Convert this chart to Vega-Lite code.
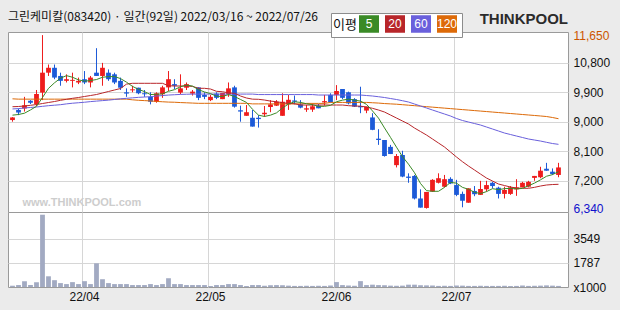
{
  "$schema": "https://vega.github.io/schema/vega-lite/v6.json",
  "background": "#ebebeb",
  "padding": {"left": 7, "top": 10, "right": 11, "bottom": 14},
  "bounds": "flush",
  "title": {"text": "THINKPOOL", "anchor": "end", "frame": "group", "offset": -16, "fontSize": 15, "fontWeight": "bold", "font": "Liberation Sans", "color": "#2b2b2b"},
  "datasets": {
    "k": [
      {"d":"2022-03-16","o":9050,"h":9140,"l":9000,"c":9130,"v":95,"m5":9200,"m20":9458,"m60":9390,"m120":9700},
      {"d":"2022-03-17","o":9360,"h":9400,"l":9200,"c":9280,"v":143,"m5":9220,"m20":9465,"m60":9400,"m120":9690},
      {"d":"2022-03-18","o":9400,"h":9760,"l":9310,"c":9500,"v":428,"m5":9260,"m20":9480,"m60":9420,"m120":9690},
      {"d":"2022-03-21","o":9640,"h":9660,"l":9540,"c":9580,"v":143,"m5":9360,"m20":9501,"m60":9435,"m120":9690},
      {"d":"2022-03-22","o":9540,"h":9970,"l":9480,"c":9850,"v":357,"m5":9470,"m20":9526,"m60":9450,"m120":9690},
      {"d":"2022-03-23","o":9890,"h":11650,"l":9660,"c":10500,"v":5300,"m5":9740,"m20":9556,"m60":9470,"m120":9690},
      {"d":"2022-03-24","o":10500,"h":10750,"l":10400,"c":10650,"v":785,"m5":10020,"m20":9587,"m60":9490,"m120":9690},
      {"d":"2022-03-25","o":10650,"h":10750,"l":10300,"c":10350,"v":500,"m5":10190,"m20":9617,"m60":9505,"m120":9690},
      {"d":"2022-03-28","o":10400,"h":10500,"l":10100,"c":10250,"v":286,"m5":10330,"m20":9654,"m60":9520,"m120":9690},
      {"d":"2022-03-29","o":10250,"h":10450,"l":10200,"c":10300,"v":214,"m5":10410,"m20":9685,"m60":9545,"m120":9690},
      {"d":"2022-03-30","o":10250,"h":10500,"l":10050,"c":10280,"v":357,"m5":10360,"m20":9715,"m60":9565,"m120":9690},
      {"d":"2022-03-31","o":10200,"h":10350,"l":10150,"c":10250,"v":214,"m5":10280,"m20":9740,"m60":9580,"m120":9690},
      {"d":"2022-04-01","o":10300,"h":10550,"l":10150,"c":10200,"v":428,"m5":10240,"m20":9771,"m60":9595,"m120":9690},
      {"d":"2022-04-04","o":10200,"h":10400,"l":10050,"c":10350,"v":214,"m5":10260,"m20":9801,"m60":9615,"m120":9690},
      {"d":"2022-04-05","o":10500,"h":11250,"l":10400,"c":10400,"v":1737,"m5":10290,"m20":9832,"m60":9630,"m120":9690},
      {"d":"2022-04-06","o":10400,"h":10800,"l":10100,"c":10650,"v":571,"m5":10360,"m20":9878,"m60":9645,"m120":9690},
      {"d":"2022-04-07","o":10500,"h":10600,"l":10250,"c":10300,"v":286,"m5":10380,"m20":9924,"m60":9660,"m120":9690},
      {"d":"2022-04-08","o":10450,"h":10500,"l":10150,"c":10200,"v":214,"m5":10380,"m20":9970,"m60":9680,"m120":9690},
      {"d":"2022-04-11","o":10250,"h":10350,"l":9970,"c":10040,"v":214,"m5":10320,"m20":10015,"m60":9700,"m120":9690},
      {"d":"2022-04-12","o":9900,"h":10020,"l":9760,"c":9860,"v":214,"m5":10210,"m20":10150,"m60":9715,"m120":9690},
      {"d":"2022-04-13","o":9960,"h":10100,"l":9900,"c":9990,"v":143,"m5":10080,"m20":10175,"m60":9730,"m120":9670},
      {"d":"2022-04-14","o":10040,"h":10040,"l":9840,"c":9870,"v":143,"m5":9990,"m20":10175,"m60":9745,"m120":9655},
      {"d":"2022-04-15","o":9870,"h":9970,"l":9760,"c":9840,"v":143,"m5":9920,"m20":10175,"m60":9755,"m120":9645},
      {"d":"2022-04-18","o":9760,"h":9900,"l":9530,"c":9610,"v":214,"m5":9830,"m20":10175,"m60":9765,"m120":9635},
      {"d":"2022-04-19","o":9610,"h":9900,"l":9580,"c":9870,"v":143,"m5":9840,"m20":10175,"m60":9785,"m120":9620},
      {"d":"2022-04-20","o":9840,"h":10100,"l":9730,"c":10050,"v":214,"m5":9850,"m20":10175,"m60":9800,"m120":9610},
      {"d":"2022-04-21","o":10050,"h":10550,"l":9940,"c":10300,"v":643,"m5":9930,"m20":10100,"m60":9815,"m120":9600},
      {"d":"2022-04-22","o":10150,"h":10300,"l":10000,"c":10100,"v":214,"m5":9980,"m20":10092,"m60":9825,"m120":9595},
      {"d":"2022-04-25","o":9890,"h":10450,"l":9840,"c":10020,"v":214,"m5":10070,"m20":10092,"m60":9835,"m120":9585},
      {"d":"2022-04-26","o":10040,"h":10200,"l":9970,"c":10150,"v":143,"m5":10120,"m20":10092,"m60":9840,"m120":9578},
      {"d":"2022-04-27","o":9860,"h":9970,"l":9800,"c":9920,"v":143,"m5":10090,"m20":10080,"m60":9845,"m120":9570},
      {"d":"2022-04-28","o":10050,"h":10050,"l":9660,"c":9730,"v":143,"m5":9980,"m20":10022,"m60":9845,"m120":9562},
      {"d":"2022-04-29","o":9820,"h":9900,"l":9690,"c":9760,"v":143,"m5":9910,"m20":10022,"m60":9845,"m120":9562},
      {"d":"2022-05-02","o":9660,"h":9820,"l":9630,"c":9760,"v":71,"m5":9860,"m20":10000,"m60":9845,"m120":9562},
      {"d":"2022-05-03","o":9860,"h":9900,"l":9690,"c":9730,"v":143,"m5":9780,"m20":9930,"m60":9845,"m120":9562},
      {"d":"2022-05-04","o":9690,"h":9880,"l":9690,"c":9880,"v":143,"m5":9770,"m20":9917,"m60":9845,"m120":9562},
      {"d":"2022-05-06","o":9840,"h":10200,"l":9760,"c":10020,"v":214,"m5":9830,"m20":9880,"m60":9845,"m120":9562},
      {"d":"2022-05-09","o":10050,"h":10100,"l":9430,"c":9460,"v":214,"m5":9770,"m20":9869,"m60":9845,"m120":9562},
      {"d":"2022-05-10","o":9350,"h":9490,"l":9000,"c":9310,"v":143,"m5":9680,"m20":9786,"m60":9845,"m120":9562},
      {"d":"2022-05-11","o":9180,"h":9510,"l":9180,"c":9290,"v":71,"m5":9590,"m20":9725,"m60":9845,"m120":9562},
      {"d":"2022-05-12","o":9120,"h":9360,"l":8850,"c":8850,"v":143,"m5":9380,"m20":9690,"m60":9845,"m120":9545},
      {"d":"2022-05-13","o":9120,"h":9200,"l":8820,"c":9080,"v":143,"m5":9200,"m20":9685,"m60":9830,"m120":9545},
      {"d":"2022-05-16","o":9230,"h":9480,"l":9150,"c":9270,"v":100,"m5":9160,"m20":9663,"m60":9830,"m120":9545},
      {"d":"2022-05-17","o":9450,"h":9660,"l":9290,"c":9530,"v":130,"m5":9200,"m20":9630,"m60":9830,"m120":9545},
      {"d":"2022-05-18","o":9490,"h":9660,"l":9480,"c":9610,"v":140,"m5":9270,"m20":9611,"m60":9830,"m120":9545},
      {"d":"2022-05-19","o":9180,"h":9870,"l":9180,"c":9610,"v":130,"m5":9420,"m20":9580,"m60":9830,"m120":9545},
      {"d":"2022-05-20","o":9530,"h":9820,"l":9360,"c":9670,"v":100,"m5":9540,"m20":9562,"m60":9830,"m120":9545},
      {"d":"2022-05-23","o":9650,"h":9800,"l":9530,"c":9610,"v":80,"m5":9610,"m20":9550,"m60":9830,"m120":9545},
      {"d":"2022-05-24","o":9530,"h":9660,"l":9410,"c":9430,"v":80,"m5":9590,"m20":9510,"m60":9830,"m120":9545},
      {"d":"2022-05-25","o":9370,"h":9510,"l":9300,"c":9410,"v":90,"m5":9550,"m20":9510,"m60":9830,"m120":9560},
      {"d":"2022-05-26","o":9370,"h":9560,"l":9300,"c":9470,"v":80,"m5":9520,"m20":9510,"m60":9830,"m120":9560},
      {"d":"2022-05-27","o":9490,"h":9540,"l":9410,"c":9410,"v":90,"m5":9470,"m20":9510,"m60":9816,"m120":9560},
      {"d":"2022-05-30","o":9590,"h":9820,"l":9490,"c":9630,"v":80,"m5":9470,"m20":9510,"m60":9816,"m120":9560},
      {"d":"2022-05-31","o":9820,"h":9870,"l":9590,"c":9590,"v":110,"m5":9500,"m20":9510,"m60":9816,"m120":9590},
      {"d":"2022-06-02","o":9820,"h":10120,"l":9660,"c":9940,"v":360,"m5":9610,"m20":9510,"m60":9816,"m120":9590},
      {"d":"2022-06-03","o":10000,"h":10000,"l":9690,"c":9730,"v":140,"m5":9660,"m20":9510,"m60":9816,"m120":9590},
      {"d":"2022-06-07","o":9900,"h":9920,"l":9530,"c":9560,"v":110,"m5":9690,"m20":9490,"m60":9816,"m120":9590},
      {"d":"2022-06-08","o":9690,"h":9720,"l":9450,"c":9460,"v":90,"m5":9660,"m20":9480,"m60":9816,"m120":9590},
      {"d":"2022-06-09","o":9480,"h":10070,"l":9260,"c":9440,"v":430,"m5":9630,"m20":9475,"m60":9816,"m120":9590},
      {"d":"2022-06-10","o":9340,"h":9460,"l":9260,"c":9460,"v":140,"m5":9530,"m20":9449,"m60":9801,"m120":9590},
      {"d":"2022-06-13","o":9130,"h":9260,"l":8740,"c":8750,"v":170,"m5":9330,"m20":9409,"m60":9786,"m120":9580},
      {"d":"2022-06-14","o":8480,"h":8770,"l":8290,"c":8440,"v":140,"m5":9110,"m20":9357,"m60":9764,"m120":9570},
      {"d":"2022-06-15","o":8440,"h":8440,"l":7930,"c":7950,"v":130,"m5":8810,"m20":9296,"m60":9740,"m120":9555},
      {"d":"2022-06-16","o":8230,"h":8290,"l":8010,"c":8010,"v":100,"m5":8520,"m20":9204,"m60":9709,"m120":9545},
      {"d":"2022-06-17","o":7670,"h":8010,"l":7600,"c":7950,"v":90,"m5":8220,"m20":9112,"m60":9679,"m120":9535},
      {"d":"2022-06-20","o":7980,"h":8110,"l":7300,"c":7320,"v":100,"m5":7930,"m20":9021,"m60":9642,"m120":9520},
      {"d":"2022-06-21","o":7320,"h":7420,"l":7130,"c":7280,"v":170,"m5":7700,"m20":8929,"m60":9602,"m120":9505},
      {"d":"2022-06-22","o":7340,"h":7370,"l":6620,"c":6650,"v":170,"m5":7440,"m20":8806,"m60":9541,"m120":9490},
      {"d":"2022-06-23","o":6650,"h":6930,"l":6370,"c":6370,"v":130,"m5":7110,"m20":8699,"m60":9480,"m120":9475},
      {"d":"2022-06-24","o":6360,"h":6850,"l":6340,"c":6850,"v":120,"m5":6890,"m20":8592,"m60":9419,"m120":9460},
      {"d":"2022-06-27","o":6860,"h":7240,"l":6850,"c":7220,"v":110,"m5":6870,"m20":8470,"m60":9357,"m120":9445},
      {"d":"2022-06-28","o":7130,"h":7420,"l":7110,"c":7270,"v":80,"m5":6870,"m20":8347,"m60":9296,"m120":9430},
      {"d":"2022-06-29","o":7010,"h":7370,"l":6990,"c":7240,"v":90,"m5":6990,"m20":8225,"m60":9235,"m120":9415},
      {"d":"2022-06-30","o":7250,"h":7300,"l":7090,"c":7110,"v":80,"m5":7140,"m20":8072,"m60":9174,"m120":9400},
      {"d":"2022-07-01","o":7060,"h":7220,"l":6720,"c":6760,"v":110,"m5":7120,"m20":7919,"m60":9097,"m120":9385},
      {"d":"2022-07-04","o":6790,"h":6860,"l":6380,"c":6580,"v":100,"m5":6990,"m20":7775,"m60":9036,"m120":9370},
      {"d":"2022-07-05","o":6520,"h":6960,"l":6520,"c":6960,"v":80,"m5":6930,"m20":7643,"m60":8990,"m120":9355},
      {"d":"2022-07-06","o":6880,"h":7030,"l":6720,"c":6780,"v":80,"m5":6840,"m20":7521,"m60":8944,"m120":9340},
      {"d":"2022-07-07","o":6760,"h":7190,"l":6760,"c":6940,"v":90,"m5":6800,"m20":7398,"m60":8898,"m120":9325},
      {"d":"2022-07-08","o":6930,"h":7190,"l":6860,"c":7060,"v":80,"m5":6860,"m20":7276,"m60":8837,"m120":9310},
      {"d":"2022-07-11","o":7130,"h":7160,"l":6960,"c":7030,"v":80,"m5":6950,"m20":7184,"m60":8776,"m120":9295},
      {"d":"2022-07-12","o":6980,"h":7010,"l":6650,"c":6790,"v":80,"m5":6920,"m20":7092,"m60":8715,"m120":9280},
      {"d":"2022-07-13","o":6790,"h":7010,"l":6650,"c":6910,"v":90,"m5":6950,"m20":7046,"m60":8653,"m120":9265},
      {"d":"2022-07-14","o":6790,"h":7030,"l":6760,"c":6990,"v":70,"m5":6960,"m20":7000,"m60":8607,"m120":9250},
      {"d":"2022-07-15","o":6930,"h":7240,"l":6730,"c":6990,"v":80,"m5":6940,"m20":6970,"m60":8561,"m120":9235},
      {"d":"2022-07-18","o":6990,"h":7160,"l":6990,"c":7130,"v":110,"m5":6960,"m20":6961,"m60":8516,"m120":9220},
      {"d":"2022-07-19","o":7010,"h":7190,"l":6990,"c":7160,"v":80,"m5":7040,"m20":6961,"m60":8470,"m120":9205},
      {"d":"2022-07-20","o":7280,"h":7340,"l":7190,"c":7340,"v":90,"m5":7120,"m20":6991,"m60":8439,"m120":9190},
      {"d":"2022-07-21","o":7300,"h":7620,"l":7270,"c":7500,"v":100,"m5":7220,"m20":7031,"m60":8408,"m120":9175},
      {"d":"2022-07-22","o":7560,"h":7740,"l":7500,"c":7500,"v":120,"m5":7330,"m20":7062,"m60":8369,"m120":9158},
      {"d":"2022-07-25","o":7470,"h":7570,"l":7370,"c":7400,"v":100,"m5":7380,"m20":7077,"m60":8332,"m120":9128},
      {"d":"2022-07-26","o":7370,"h":7740,"l":7300,"c":7600,"v":80,"m5":7470,"m20":7083,"m60":8307,"m120":9091}
    ]
  },
  "spacing": 0,
  "resolve": {"scale": {"x": "shared"}},
  "vconcat": [
    {
      "width": 560,
      "height": 180,
      "title": {"text": "그린케미칼(083420) · 일간(92일) 2022/03/16 ~ 2022/07/26", "anchor": "start", "frame": "group", "offset": 5, "fontSize": 12, "fontWeight": "normal", "font": "Noto Sans CJK KR", "color": "#111111"},
      "data": {"name": "k"},
      "encoding": {
        "x": {
          "field": "d", "type": "ordinal",
          "scale": {"type": "band", "paddingInner": 0.2, "paddingOuter": 0.7667, "align": 0.228},
          "axis": {"values": ["2022-04-01", "2022-05-02", "2022-06-02", "2022-07-01"], "bandPosition": 0, "labels": false, "ticks": false, "domain": false, "title": null, "grid": true, "gridColor": "#d6d6d6", "minExtent": 0, "maxExtent": 0, "offset": 0}
        }
      },
      "layer": [
        {
          "mark": {"type": "rule", "strokeWidth": 1},
          "encoding": {
            "y": {
              "field": "l", "type": "quantitative",
              "scale": {"domain": [6236, 11745], "nice": false, "zero": false},
              "axis": {"orient": "right", "title": null, "values": [11650, 10800, 9900, 9000, 8100, 7200, 6340], "format": ",d", "domain": false, "ticks": false, "labelPadding": 5, "labelFlush": false, "labelOverlap": false, "labelFont": "Liberation Sans", "labelFontSize": 12, "labelColor": {"condition": [{"test": "datum.value == 11650", "value": "#cc5500"}, {"test": "datum.value == 6340", "value": "#1010cc"}], "value": "#111111"}, "gridColor": {"condition": {"test": "datum.value == 11650 || datum.value == 6340", "value": "rgba(0,0,0,0)"}, "value": "#d6d6d6"}}
            },
            "y2": {"field": "h"},
            "color": {"condition": {"test": "datum.c >= datum.o", "value": "#ee1c1c"}, "value": "#1c5ad8"}
          }
        },
        {
          "data": {"values": [{}]},
          "mark": {"type": "text", "align": "left", "baseline": "middle", "dx": -2, "fontSize": 11, "fontWeight": "bold", "font": "Liberation Sans", "color": "#cdcdcd"},
          "encoding": {
            "x": {"datum": "2022-03-18", "type": "ordinal"},
            "y": {"datum": 6500, "type": "quantitative", "axis": {"orient": "right", "title": null, "values": [11650, 10800, 9900, 9000, 8100, 7200, 6340], "format": ",d", "domain": false, "ticks": false, "labelPadding": 5, "labelFlush": false, "labelOverlap": false, "labelFont": "Liberation Sans", "labelFontSize": 12, "labelColor": {"condition": [{"test": "datum.value == 11650", "value": "#cc5500"}, {"test": "datum.value == 6340", "value": "#1010cc"}], "value": "#111111"}, "gridColor": {"condition": {"test": "datum.value == 11650 || datum.value == 6340", "value": "rgba(0,0,0,0)"}, "value": "#d6d6d6"}}},
            "text": {"value": "www.THINKPOOL.com"}
          }
        },
        {
          "mark": {"type": "bar"},
          "encoding": {
            "y": {"field": "o", "type": "quantitative", "axis": {"orient": "right", "title": null, "values": [11650, 10800, 9900, 9000, 8100, 7200, 6340], "format": ",d", "domain": false, "ticks": false, "labelPadding": 5, "labelFlush": false, "labelOverlap": false, "labelFont": "Liberation Sans", "labelFontSize": 12, "labelColor": {"condition": [{"test": "datum.value == 11650", "value": "#cc5500"}, {"test": "datum.value == 6340", "value": "#1010cc"}], "value": "#111111"}, "gridColor": {"condition": {"test": "datum.value == 11650 || datum.value == 6340", "value": "rgba(0,0,0,0)"}, "value": "#d6d6d6"}}},
            "y2": {"field": "c"},
            "color": {"condition": {"test": "datum.c >= datum.o", "value": "#ee1c1c"}, "value": "#1c5ad8"}
          }
        },
        {
          "mark": {"type": "line", "strokeWidth": 1},
          "encoding": {
            "y": {"field": "m120", "type": "quantitative", "axis": {"orient": "right", "title": null, "values": [11650, 10800, 9900, 9000, 8100, 7200, 6340], "format": ",d", "domain": false, "ticks": false, "labelPadding": 5, "labelFlush": false, "labelOverlap": false, "labelFont": "Liberation Sans", "labelFontSize": 12, "labelColor": {"condition": [{"test": "datum.value == 11650", "value": "#cc5500"}, {"test": "datum.value == 6340", "value": "#1010cc"}], "value": "#111111"}, "gridColor": {"condition": {"test": "datum.value == 11650 || datum.value == 6340", "value": "rgba(0,0,0,0)"}, "value": "#d6d6d6"}}},
            "color": {
              "datum": "120", "type": "nominal",
              "scale": {"domain": ["5", "20", "60", "120"], "range": ["#3a8a26", "#b8262a", "#6a60dc", "#dd6a08"]},
              "legend": {
                "orient": "none", "legendX": 323, "legendY": -19, "direction": "horizontal",
                "title": "이평", "titleOrient": "left", "titleFont": "Noto Sans CJK KR", "titleFontSize": 13, "titleFontWeight": "normal", "titleColor": "#111111", "titlePadding": 3,
                "symbolType": "M-1.25,-1H1.25M-1.25,-0.875H1.25M-1.25,-0.75H1.25M-1.25,-0.625H1.25M-1.25,-0.5H1.25M-1.25,-0.375H1.25M-1.25,-0.25H1.25M-1.25,-0.125H1.25M-1.25,0H1.25M-1.25,0.125H1.25M-1.25,0.25H1.25M-1.25,0.375H1.25M-1.25,0.5H1.25M-1.25,0.625H1.25M-1.25,0.75H1.25M-1.25,0.875H1.25M-1.25,1H1.25",
                "symbolSize": 256, "symbolStrokeWidth": 1.5, "symbolOpacity": 1,
                "labelColor": "white", "labelFont": "Liberation Sans", "labelFontSize": 12, "labelAlign": "center", "labelOffset": -9,
                "columnPadding": 0, "padding": 2, "fillColor": "white", "strokeColor": "#8c8c8c", "cornerRadius": 0
              }
            }
          }
        },
        {
          "mark": {"type": "line", "strokeWidth": 1},
          "encoding": {"y": {"field": "m60", "type": "quantitative", "axis": {"orient": "right", "title": null, "values": [11650, 10800, 9900, 9000, 8100, 7200, 6340], "format": ",d", "domain": false, "ticks": false, "labelPadding": 5, "labelFlush": false, "labelOverlap": false, "labelFont": "Liberation Sans", "labelFontSize": 12, "labelColor": {"condition": [{"test": "datum.value == 11650", "value": "#cc5500"}, {"test": "datum.value == 6340", "value": "#1010cc"}], "value": "#111111"}, "gridColor": {"condition": {"test": "datum.value == 11650 || datum.value == 6340", "value": "rgba(0,0,0,0)"}, "value": "#d6d6d6"}}}, "color": {"datum": "60", "type": "nominal"}}
        },
        {
          "mark": {"type": "line", "strokeWidth": 1},
          "encoding": {"y": {"field": "m20", "type": "quantitative", "axis": {"orient": "right", "title": null, "values": [11650, 10800, 9900, 9000, 8100, 7200, 6340], "format": ",d", "domain": false, "ticks": false, "labelPadding": 5, "labelFlush": false, "labelOverlap": false, "labelFont": "Liberation Sans", "labelFontSize": 12, "labelColor": {"condition": [{"test": "datum.value == 11650", "value": "#cc5500"}, {"test": "datum.value == 6340", "value": "#1010cc"}], "value": "#111111"}, "gridColor": {"condition": {"test": "datum.value == 11650 || datum.value == 6340", "value": "rgba(0,0,0,0)"}, "value": "#d6d6d6"}}}, "color": {"datum": "20", "type": "nominal"}}
        },
        {
          "mark": {"type": "line", "strokeWidth": 1},
          "encoding": {"y": {"field": "m5", "type": "quantitative", "axis": {"orient": "right", "title": null, "values": [11650, 10800, 9900, 9000, 8100, 7200, 6340], "format": ",d", "domain": false, "ticks": false, "labelPadding": 5, "labelFlush": false, "labelOverlap": false, "labelFont": "Liberation Sans", "labelFontSize": 12, "labelColor": {"condition": [{"test": "datum.value == 11650", "value": "#cc5500"}, {"test": "datum.value == 6340", "value": "#1010cc"}], "value": "#111111"}, "gridColor": {"condition": {"test": "datum.value == 11650 || datum.value == 6340", "value": "rgba(0,0,0,0)"}, "value": "#d6d6d6"}}}, "color": {"datum": "5", "type": "nominal"}}
        }
      ]
    },
    {
      "width": 560,
      "height": 75,
      "data": {"name": "k"},
      "mark": {"type": "bar", "color": "#a2aac2"},
      "encoding": {
        "x": {
          "field": "d", "type": "ordinal",
          "scale": {"type": "band", "paddingInner": 0.2, "paddingOuter": 0.7667, "align": 0.228},
          "axis": {
            "values": ["2022-04-01", "2022-05-02", "2022-06-02", "2022-07-01"], "bandPosition": 0,
            "labelExpr": "substring(datum.value, 2, 4) + '/' + substring(datum.value, 5, 7)",
            "labelAngle": 0, "labelPadding": 4, "labelFont": "Liberation Sans", "labelFontSize": 12, "labelColor": "#111111",
            "ticks": false, "domain": false, "title": null, "grid": true, "gridColor": "#d6d6d6"
          }
        },
        "y": {
          "field": "v", "type": "quantitative",
          "scale": {"domain": [0, 5500], "nice": false},
          "axis": {
            "orient": "right", "title": null, "values": [0, 1787, 3549], "format": "d",
            "labelExpr": "datum.value == 0 ? 'x1000' : datum.label",
            "domain": false, "ticks": false, "labelPadding": 5, "labelFlush": false, "labelOverlap": false,
            "labelFont": "Liberation Sans", "labelFontSize": 12, "labelColor": "#111111",
            "gridColor": {"condition": {"test": "datum.value == 0", "value": "rgba(0,0,0,0)"}, "value": "#d6d6d6"}
          }
        }
      }
    }
  ],
  "config": {
    "view": {"fill": "white", "stroke": "#9a9a9a"}
  }
}
